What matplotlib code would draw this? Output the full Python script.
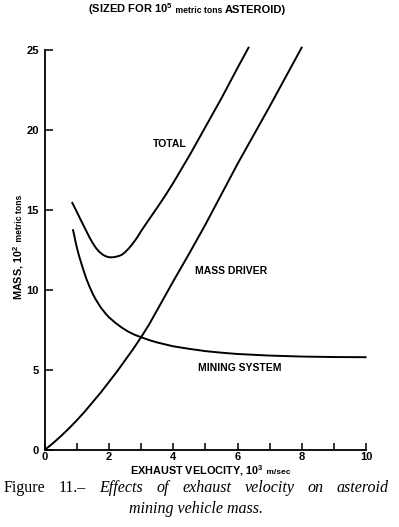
import numpy as np
import matplotlib
matplotlib.use('Agg')
from matplotlib import pyplot as plt

plt.rcParams['font.family'] = ['Liberation Sans', 'DejaVu Sans']
plt.rcParams['mathtext.fontset'] = 'custom'
plt.rcParams['mathtext.rm'] = 'Liberation Sans:bold'
plt.rcParams['mathtext.bf'] = 'Liberation Sans:bold'

# values
driver_x = [0, 0.25, 0.5, 0.75, 1.0, 1.25, 1.5, 1.75, 2.0, 2.25, 2.5, 2.75, 3.0, 3.25, 3.5,
            3.75, 4.0, 4.5, 5.0, 5.5, 6.0, 6.5, 7.0, 7.5, 8.0]
driver_y = [0, 0.4, 0.85, 1.33, 1.85, 2.4, 3.0, 3.6, 4.25, 4.9, 5.6, 6.3, 7.05, 7.85, 8.75,
            9.65, 10.55, 12.3, 14.1, 16.0, 17.9, 19.7, 21.5, 23.35, 25.2]

total_x = [0.85, 1.0, 1.15, 1.3, 1.4, 1.5, 1.6, 1.7, 1.8, 1.9, 2.0, 2.1, 2.2, 2.3, 2.4, 2.5,
           2.6, 2.7, 2.8, 2.9, 3.0, 3.25, 3.5, 3.75, 4.0, 4.5, 5.0, 5.5, 6.0, 6.35]
total_y = [15.5, 14.9, 14.28, 13.68, 13.28, 12.92, 12.62, 12.39, 12.22, 12.11, 12.05, 12.04,
           12.07, 12.12, 12.2, 12.36, 12.56, 12.8, 13.06, 13.35, 13.68, 14.42, 15.15, 15.9,
           16.7, 18.4, 20.2, 22.0, 23.9, 25.2]

mining_x = [0.88, 0.92, 0.96, 1.0, 1.05, 1.1, 1.2, 1.3, 1.4, 1.5, 1.6, 1.75, 1.9, 2.0, 2.2,
            2.4, 2.6, 2.8, 3.0, 3.25, 3.5, 3.75, 4.0, 4.5, 5.0, 5.5, 6.0, 6.5, 7.0, 8.0, 9.0, 10.0]
mining_y = [13.8, 13.45, 13.05, 12.7, 12.3, 11.95, 11.3, 10.7, 10.2, 9.75, 9.38, 8.9, 8.52,
            8.3, 7.95, 7.65, 7.4, 7.2, 7.05, 6.87, 6.72, 6.6, 6.48, 6.32, 6.18, 6.08, 6.0,
            5.95, 5.9, 5.84, 5.81, 5.8]

x_ticks = [0, 1, 2, 3, 4, 5, 6, 7, 8, 9, 10]
x_labels = ['0', '', '2', '', '4', '', '6', '', '8', '', '10']
y_ticks = [0, 5, 10, 15, 20, 25]

W, H = 399, 527
fig = plt.figure(figsize=(W / 100, H / 100), dpi=100)
ax = fig.add_axes([44.5 / W, 77 / H, 322 / W, 400 / H])

lw = 1.4
for xs, ys in [(driver_x, driver_y), (total_x, total_y), (mining_x, mining_y)]:
    ax.plot(xs, ys, color='black', lw=lw, clip_on=False, solid_capstyle='butt',
            solid_joinstyle='round')

ax.set_xlim(0, 10)
ax.set_ylim(0, 25)
for s in ['top', 'right']:
    ax.spines[s].set_visible(False)
for s in ['left', 'bottom']:
    ax.spines[s].set_linewidth(1.3)

ax.set_xticks(x_ticks)
ax.set_xticklabels(x_labels, fontsize=8, fontweight='bold')
ax.set_yticks(y_ticks)
ax.set_yticklabels([str(v) for v in y_ticks], fontsize=8, fontweight='bold')
ax.tick_params(axis='x', direction='in', length=5, width=1.1, pad=1.5)
ax.tick_params(axis='y', direction='in', length=6, width=1.1, pad=4)

# curve labels
ax.text(3.38, 19.1, 'TOTAL', fontsize=7.5, fontweight='bold', va='center')
ax.text(4.68, 11.2, 'MASS DRIVER', fontsize=7.5, fontweight='bold', va='center')
ax.text(4.78, 5.1, 'MINING SYSTEM', fontsize=7.5, fontweight='bold', va='center')


def chain(pieces, x, y, rotation=0):
    """draw text pieces one after another on a common baseline (pixel coords)"""
    out = []
    for txt, size in pieces:
        t = fig.text(x / W, 1 - y / H, txt, fontsize=size, fontweight='bold',
                     rotation=rotation, rotation_mode='anchor', ha='left', va='baseline')
        out.append(t)
    fig.canvas.draw()
    r = fig.canvas.get_renderer()
    pos = 0
    for t in out:
        bb = t.get_window_extent(r)
        if rotation == 0:
            t.set_x((x + pos) / W)
            pos += bb.width
        else:
            t.set_y(1 - (y - pos) / H)
            pos += bb.height
    return out


chain([('(SIZED FOR 10$^5$', 8), (' metric tons ', 6.2), ('ASTEROID)', 8)], 88, 13)
chain([('EXHAUST VELOCITY, 10$^3$', 7.8), (' m/sec', 6)], 130, 474)
chain([('MASS, 10$^2$', 7.8), (' metric tons', 6.2)], 22, 300, rotation=90)

# caption, first line justified between the page margins
serif = ['Liberation Serif', 'DejaVu Serif']
words = [('Figure', 'normal'), ('11.\u2013', 'normal'), ('Effects', 'italic'), ('of', 'italic'),
         ('exhaust', 'italic'), ('velocity', 'italic'), ('on', 'italic'), ('asteroid', 'italic')]
cap_y = 1 - 492 / H
texts = [fig.text(0, cap_y, w, fontsize=11.5, family=serif, style=st, va='baseline', ha='left')
         for w, st in words]
fig.text(196 / W, 1 - 513 / H, 'mining vehicle mass.', fontsize=11.5, family=serif,
         style='italic', va='baseline', ha='center')

fig.canvas.draw()
r = fig.canvas.get_renderer()
widths = [t.get_window_extent(r).width for t in texts]
left, right = 4, 389
gap = (right - left - sum(widths)) / (len(widths) - 1)
pos = left
for t, w in zip(texts, widths):
    t.set_x(pos / W)
    pos += w + gap

fig.savefig('out.png', dpi=100)
